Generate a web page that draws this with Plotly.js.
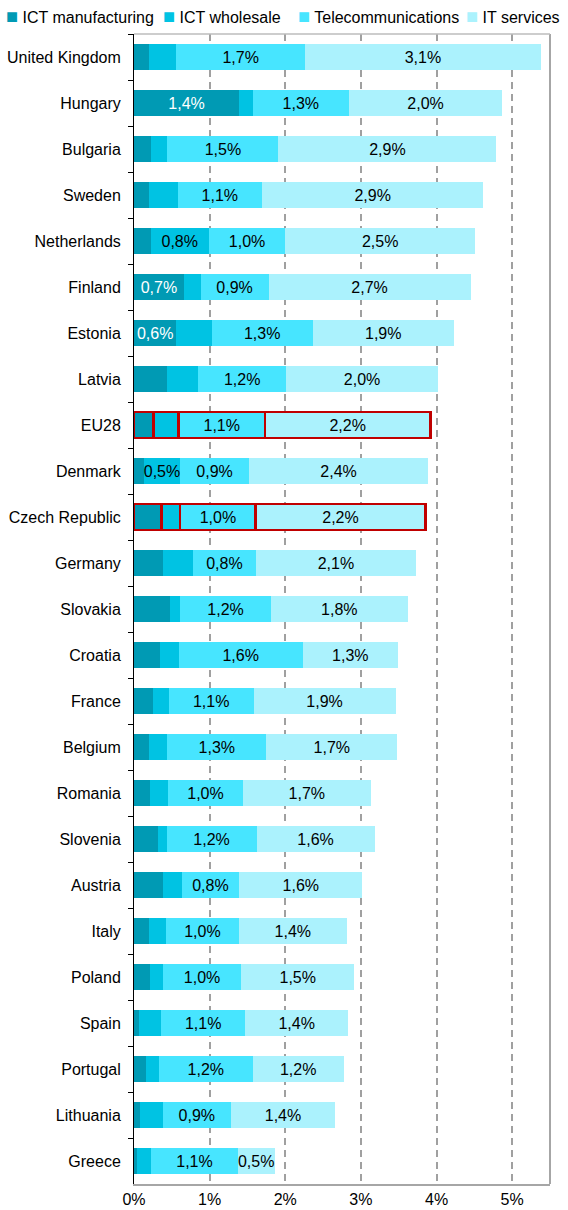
<!DOCTYPE html>
<html>
<head>
<meta charset="utf-8">
<script src="https://cdn.plot.ly/plotly-3.0.1.min.js"></script>
<style>html,body{margin:0;padding:0;background:#fff}#chart{width:568px;height:1210px}</style>
</head>
<body>
<div id="chart"></div>
<script>
const countries = ["United Kingdom","Hungary","Bulgaria","Sweden","Netherlands","Finland","Estonia","Latvia","EU28","Denmark","Czech Republic","Germany","Slovakia","Croatia","France","Belgium","Romania","Slovenia","Austria","Italy","Poland","Spain","Portugal","Lithuania","Greece"];
const ictManufacturing = [0.20,1.39,0.22,0.20,0.22,0.66,0.56,0.43,0.26,0.13,0.36,0.38,0.48,0.34,0.25,0.20,0.21,0.32,0.38,0.20,0.21,0.07,0.16,0.08,0.04];
const ictWholesale     = [0.36,0.18,0.22,0.38,0.77,0.22,0.47,0.42,0.33,0.48,0.25,0.40,0.13,0.25,0.21,0.24,0.24,0.11,0.25,0.22,0.17,0.29,0.17,0.30,0.19];
const telecommunications = [1.70,1.27,1.47,1.11,1.01,0.90,1.33,1.16,1.14,0.91,1.00,0.83,1.20,1.64,1.12,1.31,0.99,1.19,0.76,0.97,1.04,1.11,1.24,0.90,1.14];
const itServices       = [3.12,2.03,2.88,2.93,2.51,2.67,1.87,2.01,2.19,2.37,2.24,2.12,1.81,1.26,1.88,1.73,1.69,1.56,1.63,1.42,1.49,1.36,1.20,1.38,0.49];
const manufacturingLabelled = ["Hungary","Finland","Estonia"];
const wholesaleLabelled = ["Netherlands","Denmark"];
const highlighted = ["EU28","Czech Republic"];
const seriesNames = ["ICT manufacturing","ICT wholesale","Telecommunications","IT services"];
const xTicks = [0,1,2,3,4,5];
const xTickText = ["0%","1%","2%","3%","4%","5%"];

const colors = ["#009AB4","#00C3E3","#47E5FF","#ABF2FD"];
const FONT = "Liberation Sans, Arial, sans-serif";
const FS = 16;
const lineColor = countries.map(c => highlighted.includes(c) ? "#C00000" : "rgba(0,0,0,0)");
const lineWidth = countries.map(c => highlighted.includes(c) ? 2.6 : 0);
const tmpl = "%{x:.1f}%";

function mk(name, vals, color, textColor, template) {
  return {
    type: "bar", orientation: "h", name: name, y: countries, x: vals,
    marker: {color: color, line: {color: lineColor, width: lineWidth}},
    texttemplate: template, textposition: "inside", insidetextanchor: "middle",
    textangle: 0, constraintext: "none",
    textfont: {family: FONT, size: FS, color: textColor},
    hoverinfo: "x+y+name"
  };
}
const data = [
  mk(seriesNames[0], ictManufacturing, colors[0], "#FFFFFF", countries.map(c => manufacturingLabelled.includes(c) ? tmpl : "")),
  mk(seriesNames[1], ictWholesale, colors[1], "#000000", countries.map(c => wholesaleLabelled.includes(c) ? tmpl : "")),
  mk(seriesNames[2], telecommunications, colors[2], "#000000", tmpl),
  mk(seriesNames[3], itServices, colors[3], "#000000", tmpl)
];

const legendX = [4, 161, 296, 464];
const plotL = 134, plotW = 568 - 134 - 18;
const annotations = seriesNames.map((n, i) => ({
  xref: "paper", yref: "paper", x: (legendX[i] - plotL) / plotW, y: 1 + (34 - 16) / 1150,
  xanchor: "left", yanchor: "middle", showarrow: false,
  text: '<span style="color:' + colors[i] + ';font-size:20px">\u25A0</span> ' + n,
  font: {family: FONT, size: FS, color: "#000"}
}));

const layout = {
  width: 568, height: 1210,
  margin: {l: 134, r: 18, t: 34, b: 26},
  barmode: "stack", bargap: 0.44,
  separators: ",.",
  showlegend: false,
  paper_bgcolor: "#fff", plot_bgcolor: "#fff",
  uniformtext: {minsize: FS, mode: "show"},
  font: {family: FONT, size: FS, color: "#000"},
  xaxis: {
    range: [0, 5.5], tickmode: "array", tickvals: xTicks, ticktext: xTickText, ticks: "",
    showgrid: true, gridcolor: "#A0A0A0", gridwidth: 2, griddash: "7px,5px",
    zeroline: false, showline: true, linecolor: "#A6A6A6", linewidth: 2,
    tickfont: {family: FONT, size: FS, color: "#000"}, fixedrange: true
  },
  yaxis: {
    type: "category", autorange: "reversed",
    showline: true, linecolor: "#000", linewidth: 1,
    ticks: "outside", tickson: "boundaries", ticklen: 5, tickcolor: "#000",
    ticklabelstandoff: 9,
    showgrid: false, zeroline: false,
    tickfont: {family: FONT, size: FS, color: "#000"}, fixedrange: true
  },
  shapes: [
    {type: "line", xref: "paper", yref: "paper", x0: 1, x1: 1, y0: 0, y1: 1,
     line: {color: "#A6A6A6", width: 2}},
    {type: "line", xref: "paper", yref: "paper", x0: 0, x1: 1, y0: 1, y1: 1,
     line: {color: "#BDBDBD", width: 1.5}}
  ],
  annotations: annotations
};
Plotly.newPlot("chart", data, layout, {displayModeBar: false, staticPlot: true});
</script>
</body>
</html>
